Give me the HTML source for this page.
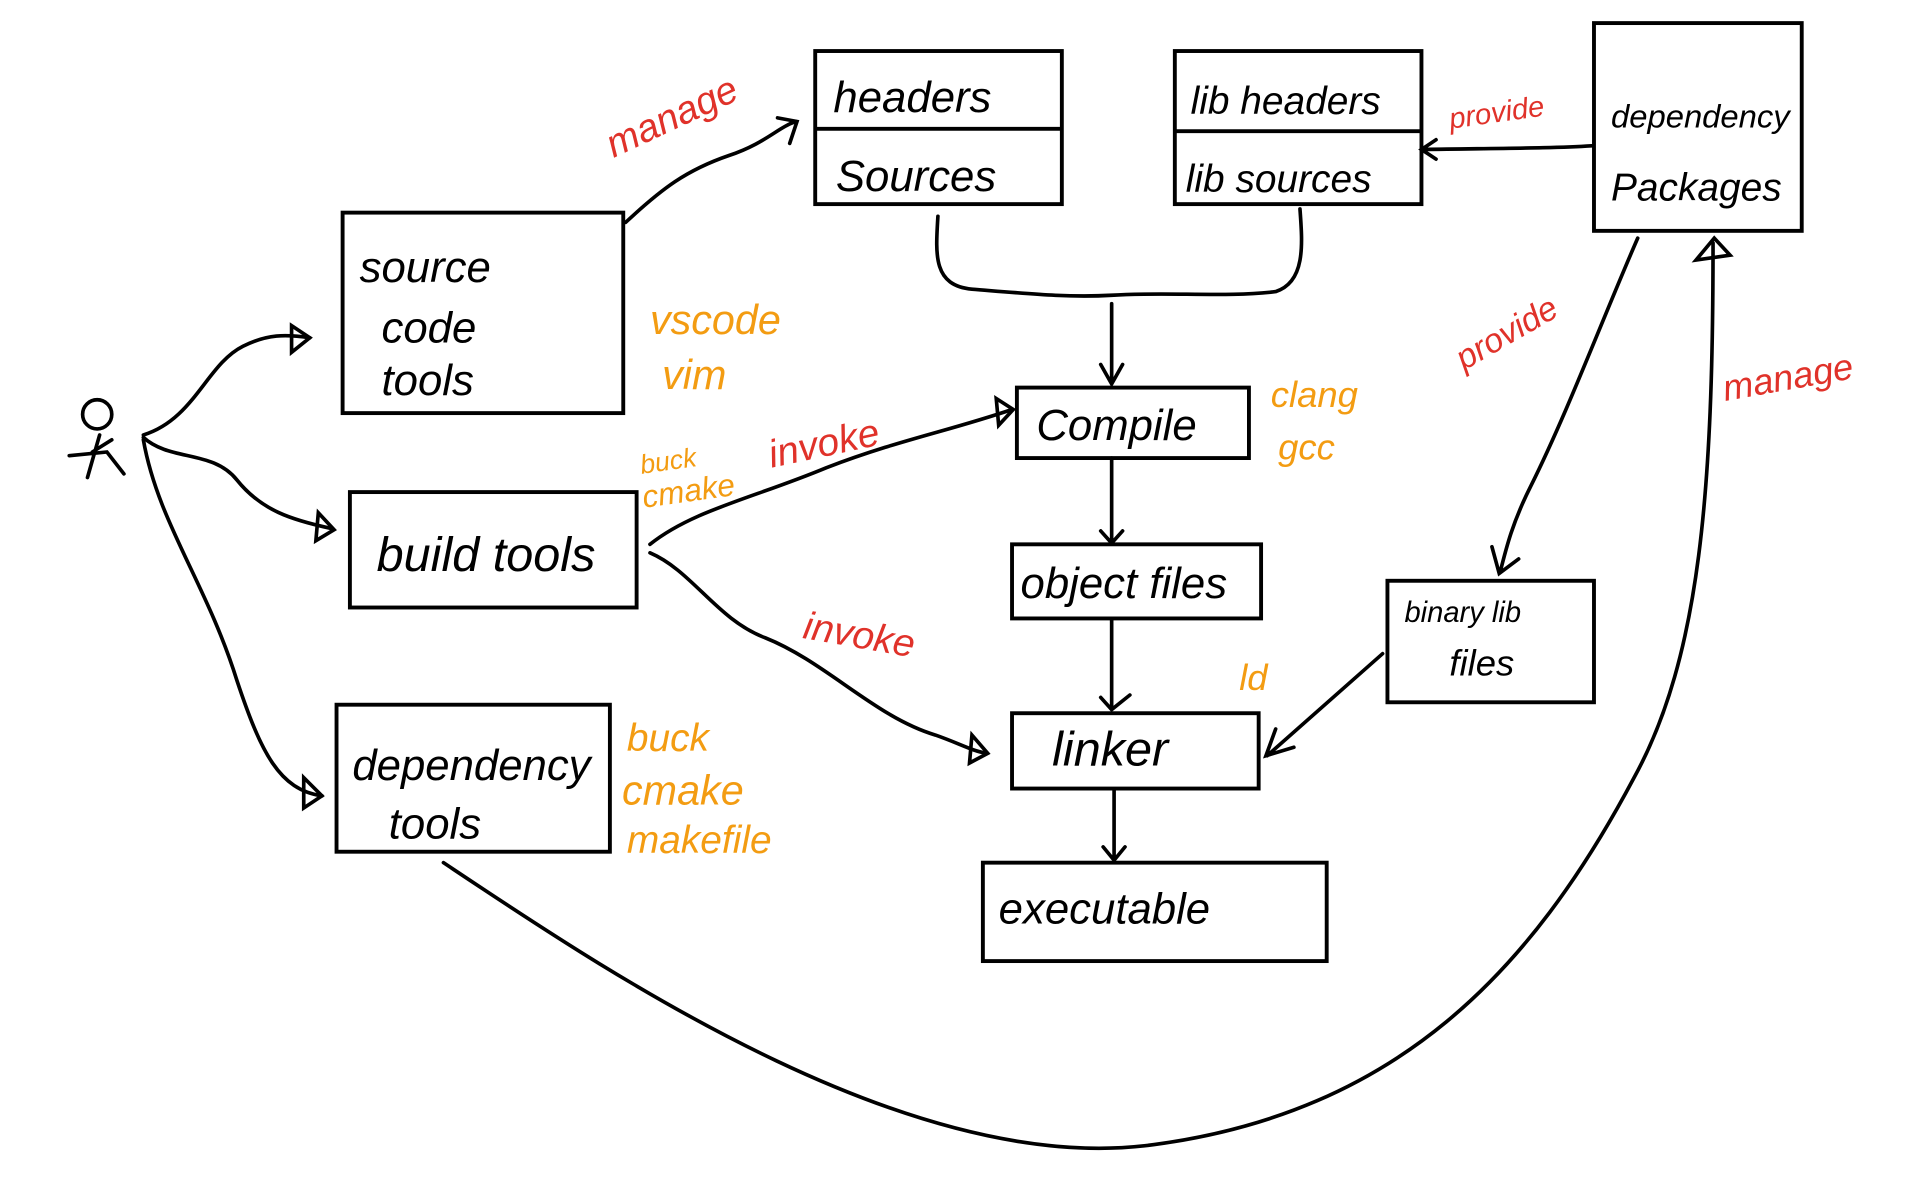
<!DOCTYPE html>
<html><head><meta charset="utf-8"><style>
html,body{margin:0;padding:0;background:#fff;}
svg{display:block;}
text{font-family:"Liberation Sans",sans-serif;}
.b{fill:none;stroke:#000;stroke-width:3.2;}
.l{fill:none;stroke:#000;stroke-width:3;stroke-linecap:round;}
.t{font-size:36px;fill:#000;font-style:italic;}
.r{fill:#e0322a;font-style:italic;}
.o{fill:#f39c12;font-style:italic;}
</style></head><body>
<svg width="1905" height="1181" viewBox="0 0 1568 972" preserveAspectRatio="none" xmlns="http://www.w3.org/2000/svg">
<rect class="b" x="671" y="42" width="203" height="126"/><line class="b" x1="671" y1="106" x2="874" y2="106"/>
<rect class="b" x="967" y="42" width="203" height="126"/><line class="b" x1="967" y1="108" x2="1170" y2="108"/>
<rect class="b" x="1312" y="19" width="171" height="171"/>
<rect class="b" x="282" y="175" width="231" height="165"/>
<rect class="b" x="288" y="405" width="236" height="95"/>
<rect class="b" x="277" y="580" width="225" height="121"/>
<rect class="b" x="837" y="319" width="191" height="58"/>
<rect class="b" x="833" y="448" width="205" height="61"/>
<rect class="b" x="833" y="587" width="203" height="62"/>
<rect class="b" x="809" y="710" width="283" height="81"/>
<rect class="b" x="1142" y="478" width="170" height="100"/>
<text class="t" x="686" y="92">headers</text>
<text class="t" x="688" y="157">Sources</text>
<text class="t" x="980" y="94" style="font-size:32px">lib headers</text>
<text class="t" x="976" y="158" style="font-size:32px">lib sources</text>
<text class="t" x="1326" y="105" style="font-size:27px">dependency</text>
<text class="t" x="1326" y="165" style="font-size:32px">Packages</text>
<text class="t" x="296" y="232">source</text>
<text class="t" x="314" y="282">code</text>
<text class="t" x="314" y="325">tools</text>
<text class="t" x="310" y="470" style="font-size:40px">build tools</text>
<text class="t" x="290" y="642">dependency</text>
<text class="t" x="320" y="690">tools</text>
<text class="t" x="853" y="362">Compile</text>
<text class="t" x="840" y="492">object files</text>
<text class="t" x="866" y="630" style="font-size:40px">linker</text>
<text class="t" x="822" y="760">executable</text>
<text class="t" x="1156" y="512" style="font-size:24px">binary lib</text>
<text class="t" x="1193" y="556" style="font-size:30px">files</text>
<text class="r" x="505" y="130" font-size="32" transform="rotate(-25 505 130)">manage</text>
<text class="r" x="1194" y="106" font-size="24" transform="rotate(-8 1194 106)">provide</text>
<text class="r" x="1205" y="305" font-size="28" transform="rotate(-30 1205 305)">provide</text>
<text class="r" x="1420" y="330" font-size="30" transform="rotate(-10 1420 330)">manage</text>
<text class="r" x="635" y="385" font-size="32" transform="rotate(-12 635 385)">invoke</text>
<text class="r" x="660" y="525" font-size="32" transform="rotate(10 660 525)">invoke</text>
<text class="o" x="535" y="275" font-size="34">vscode</text>
<text class="o" x="545" y="320" font-size="34">vim</text>
<text class="o" x="528" y="390" font-size="22" transform="rotate(-8 528 390)">buck</text>
<text class="o" x="530" y="418" font-size="26" transform="rotate(-8 530 418)">cmake</text>
<text class="o" x="1046" y="335" font-size="30">clang</text>
<text class="o" x="1052" y="378" font-size="30">gcc</text>
<text class="o" x="1020" y="568" font-size="30">ld</text>
<text class="o" x="516" y="618" font-size="32">buck</text>
<text class="o" x="512" y="662" font-size="34">cmake</text>
<text class="o" x="516" y="702" font-size="32">makefile</text>
<circle class="l" cx="80" cy="341" r="12"/>
<path class="l" d="M92 362 L76 372 M82 358 L72 393 M57 375 L88 372 L102 390"/>
<path class="l" d="M118 358 C160 345 170 300 200 285 C220 275 235 275 255 278"/>
<path class="l" d="M240 268 L255 278 L240 290 Z"/>
<path class="l" d="M118 360 C140 380 175 370 195 395 C215 420 240 428 273 435"/>
<path class="l" d="M262 422 L275 436 L260 445 Z"/>
<path class="l" d="M118 362 C130 430 170 480 195 560 C215 620 230 650 265 655"/>
<path class="l" d="M250 640 L265 655 L250 665 Z"/>
<path class="l" d="M515 183 C545 155 565 140 600 128 C630 118 640 105 655 100"/>
<path class="l" d="M640 97 L656 100 L650 118"/>
<path class="l" d="M772 178 C770 210 768 235 800 238 C850 242 880 245 915 243 C960 240 1010 245 1050 240 C1075 232 1072 200 1070 172"/>
<path class="l" d="M915 250 L915 315 M906 300 L915 316 L924 300"/>
<path class="l" d="M915 377 L915 445 M906 437 L915 447 L924 437"/>
<path class="l" d="M915 510 L915 583 M906 574 L915 584 L930 572"/>
<path class="l" d="M917 650 L917 707 M908 697 L917 708 L926 697"/>
<path class="l" d="M535 448 C570 420 620 410 680 385 C740 362 780 355 833 337"/>
<path class="l" d="M820 328 L834 337 L822 350 Z"/>
<path class="l" d="M535 455 C570 470 590 510 630 525 C680 545 720 590 770 605 C790 612 800 618 812 620"/>
<path class="l" d="M800 605 L813 620 L798 628 Z"/>
<path class="l" d="M1138 538 L1043 622 M1050 600 L1042 622 L1065 615"/>
<path class="l" d="M1310 120 C1280 122 1240 122 1172 123 M1182 115 L1170 123 L1182 131"/>
<path class="l" d="M1348 196 C1320 260 1290 340 1260 400 C1245 430 1240 450 1235 470 M1228 450 L1234 472 L1250 460"/>
<path class="l" d="M365 710 C500 800 750 970 950 942 C1150 915 1260 800 1345 640 C1400 540 1410 400 1410 200"/>
<path class="l" d="M1396 214 L1411 196 L1424 210 Z"/>
</svg>
</body></html>
